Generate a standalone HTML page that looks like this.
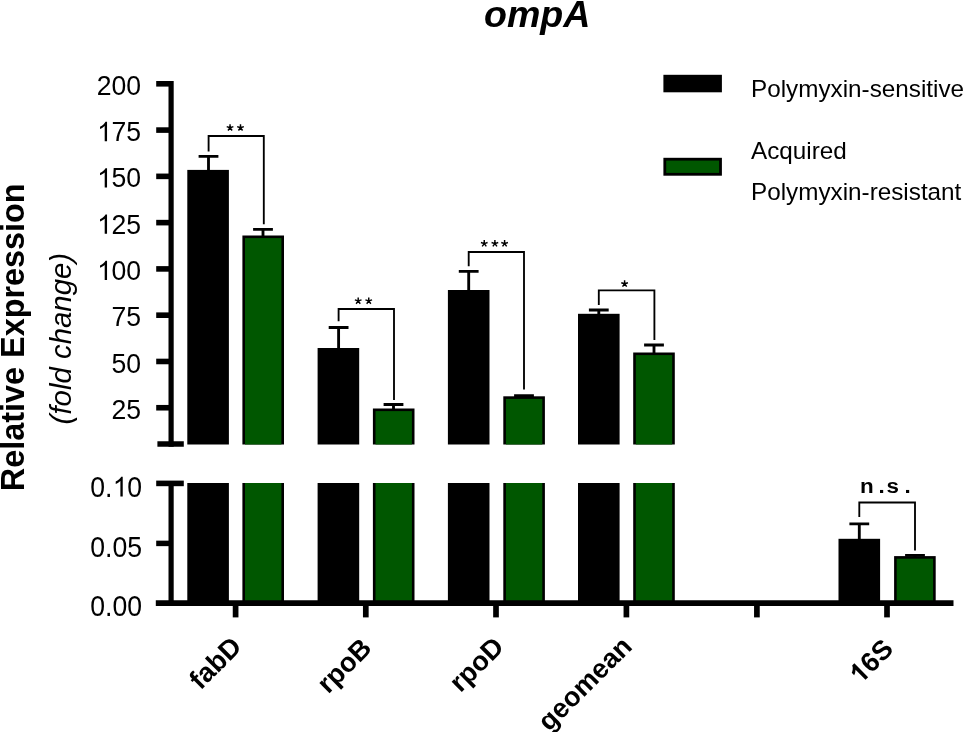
<!DOCTYPE html>
<html><head><meta charset="utf-8"><title>ompA</title>
<style>
html,body{margin:0;padding:0;background:#fff;}
body{width:964px;height:732px;overflow:hidden;}
svg{display:block;will-change:transform;}
text{font-family:"Liberation Sans",sans-serif;fill:#000;}
.tick{font-size:26.6px;text-anchor:end;}
.xl{font-size:27.2px;font-weight:bold;text-anchor:end;}
.leg{font-size:24.28px;}
.sig{font-size:20.5px;}
</style></head><body>
<svg width="964" height="732" viewBox="0 0 964 732">
<rect x="0" y="0" width="964" height="732" fill="#fff"/>
<text x="484" y="26.6" style="font-size:37.6px;font-weight:bold;font-style:italic;">ompA</text>
<text transform="translate(24.4,491.2) rotate(-90)" style="font-size:32.4px;font-weight:bold;">Relative Expression</text>
<text transform="translate(71,424.4) rotate(-90)" style="font-size:29.4px;font-style:italic;">(fold change)</text>
<rect x="187.3" y="169.9" width="41.6" height="274.60" fill="#000"/>
<rect x="187.3" y="483" width="41.6" height="120" fill="#000"/>
<rect x="242.4" y="235.5" width="41.6" height="209.00" fill="#000"/>
<rect x="245.0" y="238.1" width="36.4" height="206.40" fill="#005700"/>
<rect x="242.4" y="483" width="41.6" height="120" fill="#000"/>
<rect x="245.0" y="483" width="36.4" height="120" fill="#005700"/>
<rect x="317.6" y="348.0" width="41.6" height="96.50" fill="#000"/>
<rect x="317.6" y="483" width="41.6" height="120" fill="#000"/>
<rect x="372.9" y="408.5" width="41.6" height="36.00" fill="#000"/>
<rect x="375.5" y="411.1" width="36.4" height="33.40" fill="#005700"/>
<rect x="372.9" y="483" width="41.6" height="120" fill="#000"/>
<rect x="375.5" y="483" width="36.4" height="120" fill="#005700"/>
<rect x="447.9" y="290.0" width="41.6" height="154.50" fill="#000"/>
<rect x="447.9" y="483" width="41.6" height="120" fill="#000"/>
<rect x="503.3" y="396.3" width="41.6" height="48.20" fill="#000"/>
<rect x="505.90000000000003" y="398.90000000000003" width="36.4" height="45.60" fill="#005700"/>
<rect x="503.3" y="483" width="41.6" height="120" fill="#000"/>
<rect x="505.90000000000003" y="483" width="36.4" height="120" fill="#005700"/>
<rect x="578.0" y="313.8" width="41.6" height="130.70" fill="#000"/>
<rect x="578.0" y="483" width="41.6" height="120" fill="#000"/>
<rect x="633.2" y="352.5" width="41.6" height="92.00" fill="#000"/>
<rect x="635.8000000000001" y="355.1" width="36.4" height="89.40" fill="#005700"/>
<rect x="633.2" y="483" width="41.6" height="120" fill="#000"/>
<rect x="635.8000000000001" y="483" width="36.4" height="120" fill="#005700"/>
<rect x="838.5" y="538.8" width="41.6" height="64.20" fill="#000"/>
<rect x="894.1" y="556.1" width="41.6" height="46.90" fill="#000"/>
<rect x="896.7" y="558.7" width="36.4" height="44.30" fill="#005700"/>
<path d="M198.6,156.4H218.4M208.5,156.4V170.9" stroke="#000" stroke-width="2.85" fill="none"/>
<path d="M253.1,229.3H272.9M263.0,229.3V236.5" stroke="#000" stroke-width="2.85" fill="none"/>
<path d="M328.70000000000005,327.5H348.5M338.6,327.5V349" stroke="#000" stroke-width="2.85" fill="none"/>
<path d="M383.6,404.5H403.4M393.5,404.5V409.5" stroke="#000" stroke-width="2.85" fill="none"/>
<path d="M458.8,271.3H478.59999999999997M468.7,271.3V291" stroke="#000" stroke-width="2.85" fill="none"/>
<path d="M514.1,395.6H533.9M524.0,395.6V397.3" stroke="#000" stroke-width="2.85" fill="none"/>
<path d="M588.9,310H608.6999999999999M598.8,310V314.8" stroke="#000" stroke-width="2.85" fill="none"/>
<path d="M644.1,345H663.9M654.0,345V353.5" stroke="#000" stroke-width="2.85" fill="none"/>
<path d="M849.4,523.8H869.1999999999999M859.3,523.8V539.8" stroke="#000" stroke-width="2.85" fill="none"/>
<path d="M905.1,555.3H924.9M915.0,555.3V557.1" stroke="#000" stroke-width="2.85" fill="none"/>
<path d="M208.6,151.5V136.0H263.8V224.3" stroke="#000" stroke-width="1.85" fill="none"/>
<path d="M338.6,321.3V309.0H394.0V400.0" stroke="#000" stroke-width="1.85" fill="none"/>
<path d="M468.7,266.3V252.0H524.0V389.5" stroke="#000" stroke-width="1.85" fill="none"/>
<path d="M598.8,305.0V290.3H654.4V340.0" stroke="#000" stroke-width="1.85" fill="none"/>
<path d="M859.3,517.0V502.5H915.0V550.5" stroke="#000" stroke-width="1.85" fill="none"/>
<path d="M230.05,127.70L230.05,124.20M230.05,127.70L233.38,126.62M230.05,127.70L226.72,126.62M230.05,127.70L232.11,130.53M230.05,127.70L227.99,130.53" stroke="#000" stroke-width="1.45" fill="none"/>
<path d="M240.50,127.70L240.50,124.20M240.50,127.70L243.83,126.62M240.50,127.70L237.17,126.62M240.50,127.70L242.56,130.53M240.50,127.70L238.44,130.53" stroke="#000" stroke-width="1.45" fill="none"/>
<path d="M358.20,300.90L358.20,297.40M358.20,300.90L361.53,299.82M358.20,300.90L354.87,299.82M358.20,300.90L360.26,303.73M358.20,300.90L356.14,303.73" stroke="#000" stroke-width="1.45" fill="none"/>
<path d="M368.75,300.90L368.75,297.40M368.75,300.90L372.08,299.82M368.75,300.90L365.42,299.82M368.75,300.90L370.81,303.73M368.75,300.90L366.69,303.73" stroke="#000" stroke-width="1.45" fill="none"/>
<path d="M484.25,243.60L484.25,240.10M484.25,243.60L487.58,242.52M484.25,243.60L480.92,242.52M484.25,243.60L486.31,246.43M484.25,243.60L482.19,246.43" stroke="#000" stroke-width="1.45" fill="none"/>
<path d="M494.90,243.60L494.90,240.10M494.90,243.60L498.23,242.52M494.90,243.60L491.57,242.52M494.90,243.60L496.96,246.43M494.90,243.60L492.84,246.43" stroke="#000" stroke-width="1.45" fill="none"/>
<path d="M504.60,243.60L504.60,240.10M504.60,243.60L507.93,242.52M504.60,243.60L501.27,242.52M504.60,243.60L506.66,246.43M504.60,243.60L502.54,246.43" stroke="#000" stroke-width="1.45" fill="none"/>
<path d="M624.60,283.80L624.60,280.30M624.60,283.80L627.93,282.72M624.60,283.80L621.27,282.72M624.60,283.80L626.66,286.63M624.60,283.80L622.54,286.63" stroke="#000" stroke-width="1.45" fill="none"/>
<text transform="translate(859.9,492.6) scale(1.09,1)" style="font-size:20.6px;font-weight:bold;">n</text>
<text transform="translate(878.4,492.6) scale(1.09,1)" style="font-size:20.6px;font-weight:bold;">.</text>
<text transform="translate(886.5,492.6) scale(1.09,1)" style="font-size:20.6px;font-weight:bold;">s</text>
<text transform="translate(904.6,492.6) scale(1.09,1)" style="font-size:20.6px;font-weight:bold;">.</text>
<path d="M171.1,80.9V446.7" stroke="#000" stroke-width="5.2" fill="none"/>
<path d="M156.2,83.80H171.5" stroke="#000" stroke-width="5.6" fill="none"/>
<text transform="translate(126.31,94.90) scale(1,1.055)" style="font-size:26.6px;">0</text>
<text transform="translate(111.52,94.90) scale(1,1.055)" style="font-size:26.6px;">0</text>
<text transform="translate(96.73,94.90) scale(1,1.055)" style="font-size:26.6px;">2</text>
<path d="M156.2,130.08H171.5" stroke="#000" stroke-width="5.6" fill="none"/>
<text transform="translate(126.31,141.18) scale(1,1.055)" style="font-size:26.6px;">5</text>
<text transform="translate(111.52,141.18) scale(1,1.055)" style="font-size:26.6px;">7</text>
<path transform="translate(97.13,141.18) scale(0.012988,-0.013138)" d="M763 0H583V1147Q518 1085 412.5 1023T223 930V1104Q373 1174.5 485.5 1275T645 1470H763Z" fill="#000"/>
<path d="M156.2,176.35H171.5" stroke="#000" stroke-width="5.6" fill="none"/>
<text transform="translate(126.31,187.45) scale(1,1.055)" style="font-size:26.6px;">0</text>
<text transform="translate(111.52,187.45) scale(1,1.055)" style="font-size:26.6px;">5</text>
<path transform="translate(97.13,187.45) scale(0.012988,-0.013138)" d="M763 0H583V1147Q518 1085 412.5 1023T223 930V1104Q373 1174.5 485.5 1275T645 1470H763Z" fill="#000"/>
<path d="M156.2,222.63H171.5" stroke="#000" stroke-width="5.6" fill="none"/>
<text transform="translate(126.31,233.73) scale(1,1.055)" style="font-size:26.6px;">5</text>
<text transform="translate(111.52,233.73) scale(1,1.055)" style="font-size:26.6px;">2</text>
<path transform="translate(97.13,233.73) scale(0.012988,-0.013138)" d="M763 0H583V1147Q518 1085 412.5 1023T223 930V1104Q373 1174.5 485.5 1275T645 1470H763Z" fill="#000"/>
<path d="M156.2,268.91H171.5" stroke="#000" stroke-width="5.6" fill="none"/>
<text transform="translate(126.31,280.01) scale(1,1.055)" style="font-size:26.6px;">0</text>
<text transform="translate(111.52,280.01) scale(1,1.055)" style="font-size:26.6px;">0</text>
<path transform="translate(97.13,280.01) scale(0.012988,-0.013138)" d="M763 0H583V1147Q518 1085 412.5 1023T223 930V1104Q373 1174.5 485.5 1275T645 1470H763Z" fill="#000"/>
<path d="M156.2,315.19H171.5" stroke="#000" stroke-width="5.6" fill="none"/>
<text transform="translate(126.31,326.29) scale(1,1.055)" style="font-size:26.6px;">5</text>
<text transform="translate(111.52,326.29) scale(1,1.055)" style="font-size:26.6px;">7</text>
<path d="M156.2,361.47H171.5" stroke="#000" stroke-width="5.6" fill="none"/>
<text transform="translate(126.31,372.57) scale(1,1.055)" style="font-size:26.6px;">0</text>
<text transform="translate(111.52,372.57) scale(1,1.055)" style="font-size:26.6px;">5</text>
<path d="M156.2,407.74H171.5" stroke="#000" stroke-width="5.6" fill="none"/>
<text transform="translate(126.31,418.84) scale(1,1.055)" style="font-size:26.6px;">5</text>
<text transform="translate(111.52,418.84) scale(1,1.055)" style="font-size:26.6px;">2</text>
<path d="M157.4,444H183.8" stroke="#000" stroke-width="5.5" fill="none"/>
<path d="M171.1,481V606" stroke="#000" stroke-width="5.2" fill="none"/>
<path d="M156.2,483.4H183.8" stroke="#000" stroke-width="5.6" fill="none"/>
<path d="M156.2,543.4H171.5" stroke="#000" stroke-width="5.5" fill="none"/>
<path d="M155.8,603.1H953.5" stroke="#000" stroke-width="5.7" fill="none"/>
<text transform="translate(127.21,496.50) scale(1,1.085)" style="font-size:26.6px;">0</text>
<path transform="translate(112.82,496.50) scale(0.012988,-0.013511)" d="M763 0H583V1147Q518 1085 412.5 1023T223 930V1104Q373 1174.5 485.5 1275T645 1470H763Z" fill="#000"/>
<text transform="translate(105.03,496.50) scale(1,1.085)" style="font-size:26.6px;">.</text>
<text transform="translate(90.24,496.50) scale(1,1.085)" style="font-size:26.6px;">0</text>
<text transform="translate(127.21,556.50) scale(1,1.085)" style="font-size:26.6px;">5</text>
<text transform="translate(112.42,556.50) scale(1,1.085)" style="font-size:26.6px;">0</text>
<text transform="translate(105.03,556.50) scale(1,1.085)" style="font-size:26.6px;">.</text>
<text transform="translate(90.24,556.50) scale(1,1.085)" style="font-size:26.6px;">0</text>
<text transform="translate(127.21,616.20) scale(1,1.085)" style="font-size:26.6px;">0</text>
<text transform="translate(112.42,616.20) scale(1,1.085)" style="font-size:26.6px;">0</text>
<text transform="translate(105.03,616.20) scale(1,1.085)" style="font-size:26.6px;">.</text>
<text transform="translate(90.24,616.20) scale(1,1.085)" style="font-size:26.6px;">0</text>
<path d="M235.6,603V617.4" stroke="#000" stroke-width="5.7" fill="none"/>
<path d="M365.8,603V617.4" stroke="#000" stroke-width="5.7" fill="none"/>
<path d="M496.0,603V617.4" stroke="#000" stroke-width="5.7" fill="none"/>
<path d="M626.4,603V617.4" stroke="#000" stroke-width="5.7" fill="none"/>
<path d="M756.9,603V617.4" stroke="#000" stroke-width="5.7" fill="none"/>
<path d="M887.0,603V617.4" stroke="#000" stroke-width="5.7" fill="none"/>
<text class="xl" transform="translate(243.1,648.0) rotate(-45)">fabD</text>
<text class="xl" transform="translate(373.1,649.6) rotate(-45)">rpoB</text>
<text class="xl" transform="translate(505.4,648.4) rotate(-45)">rpoD</text>
<text class="xl" transform="translate(633.5,647.9) rotate(-45)">geomean</text>
<g transform="translate(894.8,650.5) rotate(-45)"><text class="xl">6S</text><path transform="translate(-48.39,0) scale(0.013281,-0.013281)" d="M806 0H525V1059Q371 915 162 846V1101Q272 1137 401 1237.5T578 1472H806Z" fill="#000"/></g>
<rect x="663.4" y="74.8" width="58.5" height="17.5" fill="#000"/>
<rect x="663.4" y="157.8" width="58.5" height="17.9" fill="#000"/>
<rect x="666.2" y="160.6" width="52.9" height="12.3" fill="#005700"/>
<text class="leg" x="751" y="97">Polymyxin-sensitive</text>
<text class="leg" x="751" y="159.4">Acquired</text>
<text class="leg" x="751" y="200.4">Polymyxin-resistant</text>
</svg>
</body></html>
